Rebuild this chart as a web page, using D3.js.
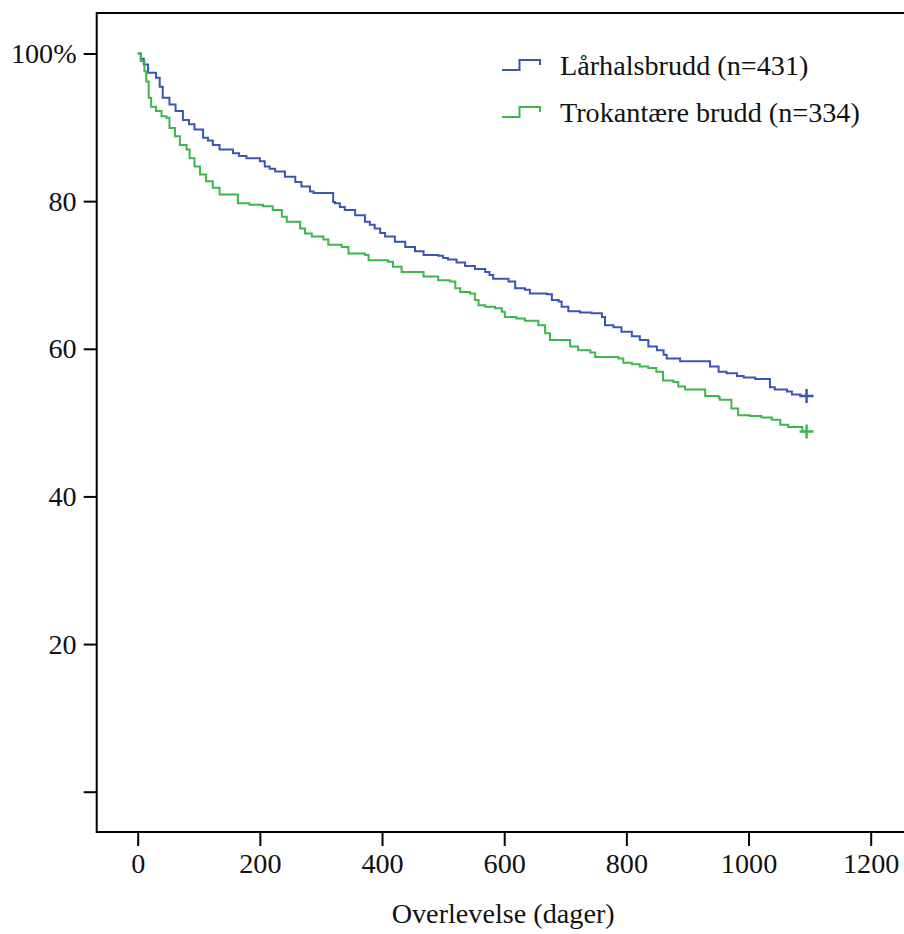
<!DOCTYPE html>
<html>
<head>
<meta charset="utf-8">
<script src="https://cdn.jsdelivr.net/npm/d3@7"></script>
<style>
  body { margin: 0; background: #fff; }
  svg text { font-family: "Liberation Serif", "DejaVu Serif", serif; fill: #111; }
</style>
</head>
<body>
<div id="chart"></div>
<script>
// Kaplan-Meier, days vs. survival (%)
const seriesNames = ["Lårhalsbrudd (n=431)", "Trokantære brudd (n=334)"];
const seriesColors = ["#3a55b7", "#3db74c"];

const laarhalsDays = [0, 5, 10, 17, 30, 36, 41, 52, 62, 74, 84, 93, 107, 115, 123, 134, 156, 166, 178, 200,
  208, 216, 225, 241, 258, 268, 282, 288, 320, 323, 331, 339, 356, 372, 380, 388, 397, 405, 421, 438,
  454, 468, 492, 500, 508, 522, 536, 552, 569, 576, 582, 607, 618, 634, 642, 670, 678, 689, 694, 705,
  724, 743, 760, 765, 779, 792, 809, 822, 836, 850, 861, 866, 888, 937, 951, 964, 981, 992, 1011, 1035,
  1043, 1063, 1071, 1085, 1095];
const laarhalsSurv = [100, 99.3, 98.5, 97.4, 96.7, 95.5, 94.0, 93.1, 92.2, 91.0, 90.4, 89.7, 88.6, 88.2, 87.6, 87.0, 86.5, 86.1, 85.8, 85.4,
  84.7, 84.4, 84.0, 83.3, 82.6, 82.0, 81.3, 81.1, 79.9, 79.7, 79.2, 78.8, 78.1, 77.2, 76.8, 76.3, 75.7, 75.2, 74.5, 73.8,
  73.2, 72.7, 72.6, 72.3, 72.1, 71.7, 71.2, 70.8, 70.4, 70.0, 69.5, 69.1, 68.2, 68.0, 67.5, 67.4, 66.6, 66.4, 65.7, 65.1,
  64.9, 64.8, 64.3, 63.2, 62.9, 62.3, 61.7, 61.2, 60.3, 59.8, 59.2, 58.7, 58.3, 57.6, 56.9, 56.7, 56.3, 56.1, 55.9, 54.8,
  54.5, 54.2, 53.8, 53.6, 53.6];

const trokantDays = [0, 5, 11, 14, 18, 22, 30, 39, 47, 52, 61, 69, 80, 85, 93, 102, 112, 123, 134, 164,
  183, 205, 221, 236, 244, 266, 274, 285, 304, 312, 334, 345, 372, 378, 410, 418, 432, 468, 492, 511,
  520, 528, 544, 552, 558, 569, 585, 596, 601, 620, 634, 656, 667, 675, 708, 721, 741, 749, 787, 795,
  809, 822, 836, 849, 860, 877, 885, 896, 929, 951, 953, 972, 983, 1002, 1021, 1038, 1052, 1065, 1088, 1095];
const trokantSurv = [100, 99.0, 97.6, 96.2, 94.0, 92.8, 92.2, 91.5, 91.3, 89.9, 88.8, 87.6, 87.0, 85.8, 84.7, 83.6, 82.7, 81.8, 80.9, 79.7,
  79.5, 79.3, 78.8, 77.9, 77.2, 76.3, 75.6, 75.2, 74.8, 74.1, 73.8, 72.9, 72.7, 72.0, 71.8, 71.1, 70.4, 69.8, 69.3, 69.1,
  68.2, 67.7, 67.5, 66.6, 65.9, 65.7, 65.5, 65.0, 64.3, 64.1, 63.8, 63.2, 62.1, 61.2, 60.3, 59.8, 59.5, 58.9, 58.7, 58.1,
  57.9, 57.6, 57.4, 56.9, 55.7, 55.5, 54.9, 54.5, 53.6, 53.4, 53.1, 51.9, 51.0, 50.9, 50.7, 50.4, 49.7, 49.4, 48.8, 48.8];

const xTicks = [0, 200, 400, 600, 800, 1000, 1200];
const yTicks = [0, 20, 40, 60, 80, 100];
const xTitle = "Overlevelse (dager)";

const width = 904, height = 934;
const fontSize = 28.2;

const svg = d3.select("#chart").append("svg")
    .attr("width", width)
    .attr("height", height);

const x = d3.scaleLinear().domain([0, 1200]).range([137.7, 870.7]);
const y = d3.scaleLinear().domain([0, 100]).range([791.7, 53.5]);

const frameLeft = 96.7, frameTop = 13, frameBottom = 832;

// frame lines (left, top, bottom)
svg.append("path")
    .attr("d", `M${width},${frameTop}H${frameLeft}V${frameBottom}H${width}`)
    .attr("fill", "none")
    .attr("stroke", "#000")
    .attr("stroke-width", 2);

// y axis
let yAxis = svg.append("g")
    .attr("transform", `translate(${frameLeft},0)`)
    .call(d3.axisLeft(y).tickValues(yTicks).tickSize(13).tickPadding(7)
        .tickFormat(d => d == 100 ? "100%" : (d == 0 ? "" : d)));
yAxis.select(".domain").remove();
yAxis.selectAll("line").attr("stroke", "#000").attr("stroke-width", 2);
yAxis.selectAll("text")
    .attr("font-family", null)
    .style("font-size", fontSize + "px")
    .attr("fill", "#111");

// x axis
let xAxis = svg.append("g")
    .attr("transform", `translate(0,${frameBottom})`)
    .call(d3.axisBottom(x).tickValues(xTicks).tickSize(14).tickFormat(d3.format("d")));
xAxis.select(".domain").remove();
xAxis.selectAll("line").attr("stroke", "#000").attr("stroke-width", 2);
xAxis.selectAll("text")
    .attr("font-family", null)
    .attr("y", 41)
    .attr("dy", 0)
    .style("font-size", fontSize + "px")
    .attr("fill", "#111");

svg.append("text")
    .attr("x", x(600) - 1)
    .attr("y", 923)
    .attr("text-anchor", "middle")
    .style("font-size", fontSize + "px")
    .text(xTitle);

// curves
const series = [
    {name: seriesNames[0], color: seriesColors[0], pts: d3.zip(laarhalsDays, laarhalsSurv)},
    {name: seriesNames[1], color: seriesColors[1], pts: d3.zip(trokantDays, trokantSurv)}
];

const line = d3.line()
    .x(d => x(d[0]))
    .y(d => y(d[1]))
    .curve(d3.curveStepAfter);

svg.selectAll("path.km")
    .data(series)
    .enter()
    .append("path")
    .attr("class", "km")
    .attr("d", d => line(d.pts))
    .attr("fill", "none")
    .attr("stroke", d => d.color)
    .attr("stroke-width", 2);

// censoring marks at the end
series.forEach(s => {
    let last = s.pts[s.pts.length - 1];
    let cx = x(last[0]), cy = y(last[1]);
    svg.append("path")
        .attr("d", `M${cx - 7},${cy}H${cx + 7}M${cx},${cy - 7}V${cy + 7}`)
        .attr("stroke", s.color)
        .attr("stroke-width", 2.5);
});

// legend
let legend = svg.selectAll("g.legend")
    .data(series)
    .enter()
    .append("g")
    .attr("class", "legend")
    .attr("transform", (d, i) => `translate(0,${i * 47})`);

legend.append("path")
    .attr("d", "M502,70H519.5V60H540V65")
    .attr("fill", "none")
    .attr("stroke", d => d.color)
    .attr("stroke-width", 2);

legend.append("text")
    .attr("x", 560)
    .attr("y", 75)
    .style("font-size", fontSize + "px")
    .text(d => d.name);
</script>
</body>
</html>
